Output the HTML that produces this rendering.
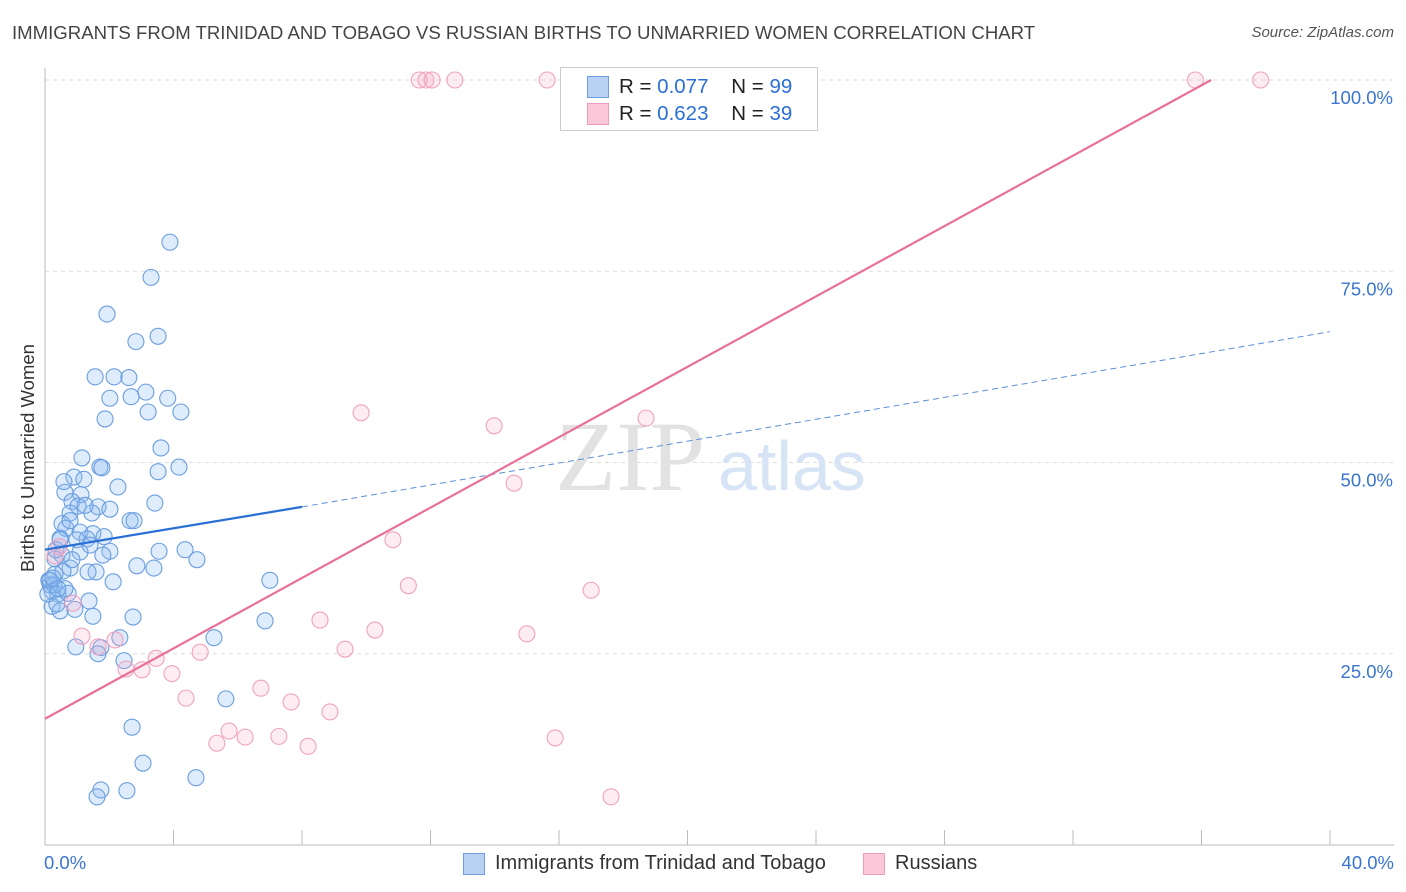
<!DOCTYPE html>
<html><head><meta charset="utf-8">
<style>
body{margin:0;background:#fff;font-family:"Liberation Sans",sans-serif;}
#wrap{position:relative;width:1406px;height:892px;overflow:hidden;}
.title{position:absolute;left:12px;top:22px;font-size:18.6px;color:#444;white-space:nowrap;}
.src{position:absolute;right:12px;top:24px;font-size:15px;color:#555;font-style:italic;}
</style></head><body>
<div id="wrap">
<div class="title">IMMIGRANTS FROM TRINIDAD AND TOBAGO VS RUSSIAN BIRTHS TO UNMARRIED WOMEN CORRELATION CHART</div>
<div class="src">Source: ZipAtlas.com</div>
<svg id="svg" width="1406" height="892" style="position:absolute;left:0;top:0"></svg>
</div>
<script>
const blueX=[3.89,3.30,1.93,3.52,2.83,1.56,2.15,2.61,3.14,3.82,2.02,2.68,3.21,4.23,1.87,3.61,1.15,1.71,1.77,3.52,4.17,0.90,1.21,2.27,0.62,1.12,0.84,3.42,1.65,1.03,1.46,0.78,2.65,2.77,0.53,0.65,1.09,1.49,1.84,1.31,0.47,0.99,2.02,1.09,1.80,3.55,4.36,4.73,0.53,0.31,2.86,3.39,0.78,1.59,0.56,0.31,0.12,0.16,2.12,7.00,0.72,0.22,0.40,1.37,0.22,6.85,0.47,1.49,2.74,5.26,2.33,0.96,1.74,1.65,2.46,5.63,2.71,3.05,4.70,1.74,2.55,1.62,0.28,0.16,0.34,0.47,1.40,0.84,0.62,0.09,0.37,0.93,1.34,2.02,1.25,0.78,0.59,0.25,0.40];
const blueY=[78.8,74.2,69.4,66.5,65.8,61.2,61.2,61.1,59.2,58.4,58.4,58.6,56.6,56.6,55.7,51.9,50.6,49.4,49.3,48.8,49.4,48.1,47.8,46.8,46.1,45.8,44.9,44.7,44.2,44.3,43.4,43.4,42.4,42.4,42.0,41.4,40.9,40.7,40.3,40.0,40.1,39.9,38.4,38.3,37.9,38.4,38.6,37.3,37.9,37.4,36.5,36.2,36.2,35.7,35.8,35.4,34.6,34.0,34.4,34.6,32.9,33.2,32.8,31.9,31.2,29.3,30.6,29.9,29.8,27.1,27.1,25.9,25.8,25.0,24.1,19.1,15.4,10.7,8.8,7.2,7.1,6.3,34.0,34.6,38.6,39.9,39.2,37.3,33.5,32.8,31.5,30.8,35.7,43.9,44.4,42.4,47.5,34.9,33.5];
const pinkX=[11.65,11.86,12.05,12.76,15.63,35.81,37.84,9.84,18.71,13.98,14.60,10.83,0.44,0.31,11.31,17.00,0.87,8.56,10.27,15.00,1.15,2.18,1.65,9.34,4.83,3.46,2.52,3.02,3.95,6.72,4.39,7.66,8.87,5.73,5.35,6.23,7.28,15.88,8.19,17.62];
const pinkY=[100,100,100,100,100,100,100,56.5,55.8,54.8,47.3,39.9,39.0,37.8,33.9,33.3,31.6,29.4,28.1,27.6,27.3,26.8,25.9,25.6,25.2,24.4,23.0,22.9,22.4,20.5,19.2,18.7,17.4,14.9,13.3,14.1,14.2,14.0,12.9,6.3];
const yTicks=[25,50,75,100];
const blueTrend=[[0,38.6],[8,44.2]], blueDash=[[8,44.2],[40,67.1]];
const pinkTrend=[[0,16.5],[36.3,100]];
const svg=document.getElementById('svg');const NS='http://www.w3.org/2000/svg';
const X0=45,X1=1330,Y0=845,Y100=80;
const sx=v=>X0+(v/40)*(X1-X0), sy=v=>Y0-(v/100)*(Y0-Y100);
function mk(t,a){const e=document.createElementNS(NS,t);for(const k in a)e.setAttribute(k,a[k]);svg.appendChild(e);return e;}
for(const t of yTicks){const l=mk('line',{x1:X0,x2:1394,y1:sy(t),y2:sy(t),stroke:'#ddd','stroke-dasharray':'4,4'});


const tx=mk('text',{x:1393,y:sy(t)+24,'text-anchor':'end','font-size':18.5,fill:'#3a75d0'});tx.textContent=t.toFixed(1)+'%';

}
const ax=mk('line',{x1:X0,x2:1394,y1:Y0,y2:Y0,stroke:'#bbb'});
const ay=mk('line',{x1:X0,x2:X0,y1:68,y2:Y0,stroke:'#bbb'});
for(let i=1;i<=10;i++){const t=mk('line',{x1:sx(i*4),x2:sx(i*4),y1:830,y2:Y0,stroke:'#bbb'});}
const wz=mk('text',{x:555,y:490,'font-size':100,fill:'#e2e2e2','font-family':'Liberation Serif'});wz.textContent='ZIP';
const wa=mk('text',{x:718,y:490,'font-size':70,fill:'#d6e4f5'});wa.textContent='atlas';
for(let i=0;i<blueX.length;i++){const c=mk('circle',{cx:sx(blueX[i]),cy:sy(blueY[i]),r:8,fill:'rgba(140,185,240,0.28)',stroke:'#6a9ee0','stroke-width':1.1});

}
for(let i=0;i<pinkX.length;i++){const c=mk('circle',{cx:sx(pinkX[i]),cy:sy(pinkY[i]),r:8,fill:'rgba(245,170,195,0.22)',stroke:'#f0a2be','stroke-width':1.1});

}
let l=mk('line',{x1:sx(blueTrend[0][0]),y1:sy(blueTrend[0][1]),x2:sx(blueTrend[1][0]),y2:sy(blueTrend[1][1]),stroke:'#2a6fd6','stroke-width':2.2});

l=mk('line',{x1:sx(blueDash[0][0]),y1:sy(blueDash[0][1]),x2:sx(blueDash[1][0]),y2:sy(blueDash[1][1]),stroke:'#5b8fd6','stroke-width':1,'stroke-dasharray':'6,4'});

l=mk('line',{x1:sx(pinkTrend[0][0]),y1:sy(pinkTrend[0][1]),x2:sx(pinkTrend[1][0]),y2:sy(pinkTrend[1][1]),stroke:'#e8709a','stroke-width':2.2});

</script>
<div style="position:absolute;left:560px;top:67px;width:256px;height:62px;border:1px solid #ccc;background:#fff;font-size:20.5px;color:#222">
<div style="position:absolute;left:26px;top:8px;width:20px;height:20px;background:#b9d2f3;border:1px solid #6a9ee0"></div>
<div style="position:absolute;left:58px;top:7px">R = <span style="color:#2a6fd6">0.077</span>&nbsp;&nbsp;&nbsp;&nbsp;N = <span style="color:#2a6fd6">99</span></div>
<div style="position:absolute;left:26px;top:35px;width:20px;height:20px;background:#fac8d8;border:1px solid #ef9ab8"></div>
<div style="position:absolute;left:58px;top:34px">R = <span style="color:#2a6fd6">0.623</span>&nbsp;&nbsp;&nbsp;&nbsp;N = <span style="color:#2a6fd6">39</span></div>
</div>
<div style="position:absolute;left:44px;top:852px;font-size:18.5px;color:#3a75d0">0.0%</div>
<div style="position:absolute;right:12px;top:852px;font-size:18.5px;color:#3a75d0">40.0%</div>
<div style="position:absolute;left:28px;top:458px;transform:translate(-50%,-50%) rotate(-90deg);transform-origin:center;font-size:18.5px;color:#333;white-space:nowrap">Births to Unmarried Women</div>
<div style="position:absolute;left:463px;top:853px;width:20px;height:20px;background:#b9d2f3;border:1px solid #6a9ee0"></div>
<div style="position:absolute;left:495px;top:852px;font-size:20px;color:#333">Immigrants from Trinidad and Tobago</div>
<div style="position:absolute;left:863px;top:853px;width:20px;height:20px;background:#fac8d8;border:1px solid #ef9ab8"></div>
<div style="position:absolute;left:895px;top:852px;font-size:20px;color:#333">Russians</div>
</body></html>
